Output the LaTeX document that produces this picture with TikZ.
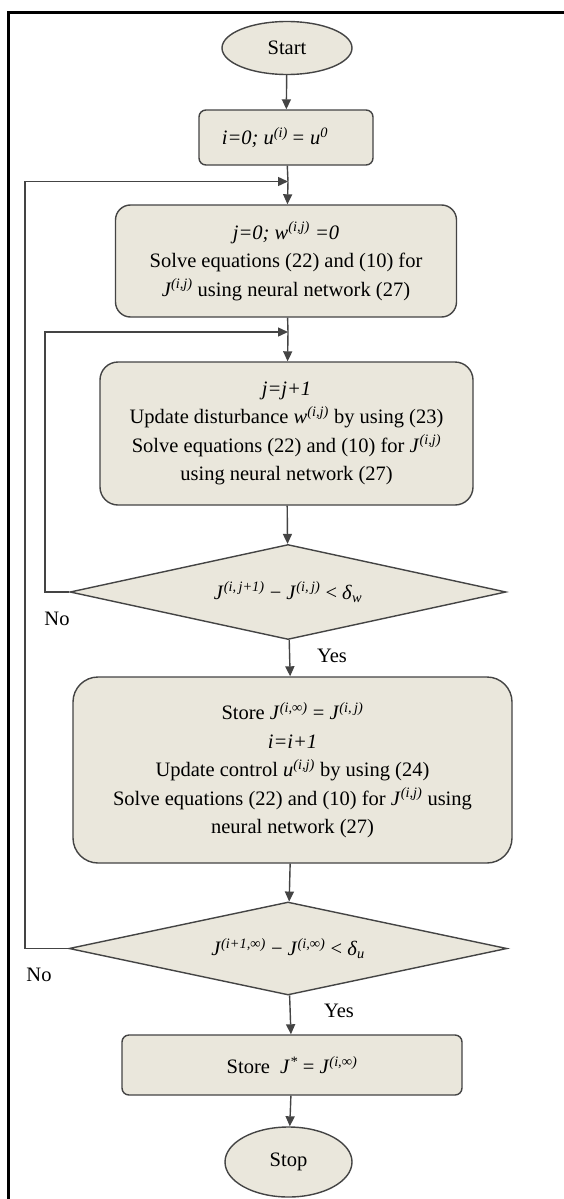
\documentclass[tikz,border=0pt]{standalone}
\usepackage{fontspec}
\setmainfont{Liberation Serif}
\usetikzlibrary{arrows.meta,shapes.geometric}
\definecolor{boxfill}{HTML}{EAE7DC}
\definecolor{edge}{HTML}{444444}
\newcommand\sps[1]{\textsuperscript{\itshape #1}}
\newcommand\sbs[1]{\textsubscript{\itshape #1}}
\tikzset{
  every node/.style={font=\fontsize{20.5}{28.5}\selectfont},
  procbox/.style={draw=edge, line width=1.4pt, fill=boxfill, rounded corners=#1, align=center, inner sep=0pt},
  procbox/.default=12pt,
  term/.style={draw=edge, line width=1.4pt, fill=boxfill, ellipse, inner sep=0pt},
  decide/.style={draw=edge, line width=1.4pt, fill=boxfill, diamond, aspect=4.6, inner sep=0pt},
  flow/.style={draw=edge, line width=1.4pt, -{Triangle[length=10pt,width=9pt]}},
  plain/.style={draw=edge, line width=1.4pt},
  lbl/.style={font=\fontsize{20.5}{22}\selectfont}
}
\begin{document}
\begin{tikzpicture}[x=1pt,y=-1pt]
\useasboundingbox (0,0) rectangle (564,1199);
\fill[white] (0,0) rectangle (564,1199);
% outer frame
\draw[black, line width=2.2pt] (8.5,1199) -- (8.5,12.5) -- (564,12.5);

% nodes
\node[term, minimum width=130pt, minimum height=53pt] (start) at (287,48) {Start};
\node[procbox=7pt, minimum width=174pt, minimum height=55pt] (init) at (286,137.5)
  {\hspace*{-22pt}\itshape i=0; u\sps{(i)}\,= u\sps{0}};
\node[procbox=15pt, minimum width=341pt, minimum height=112pt] (inner0) at (286,261)
  {\itshape j=0; w\sps{(i,j)} =0\\
   Solve equations (22) and (10) for\\
   \itshape J\sps{(i,j)} \upshape using neural network (27)};
\node[procbox=18pt, minimum width=373pt, minimum height=143pt] (inner) at (286.5,433.5)
  {\itshape j=j+1\\
   Update disturbance \textit{w}\sps{(i,j)} by using (23)\\
   Solve equations (22) and (10) for \textit{J}\sps{(i,j)}\\
   using neural network (27)};
\node[decide, minimum width=436pt, minimum height=95pt] (dw) at (288,592)
  {\textit{J}\sps{(i,\,j+1)} − \textit{J}\sps{(i,\,j)} < \textit{δ}\sbs{w}};
\node[procbox=25pt, minimum width=439pt, minimum height=186pt] (outer) at (292.5,770)
  {Store \textit{J}\sps{(i,∞)} = \textit{J}\sps{(i,\,j)}\\
   \itshape i=i+1\\
   Update control \textit{u}\sps{(i,j)} by using (24)\\
   Solve equations (22) and (10) for \textit{J}\sps{(i,j)} using\\
   neural network (27)};
\node[decide, minimum width=438pt, minimum height=93pt] (du) at (288,948.5)
  {\textit{J}\sps{(i+1,∞)} − \textit{J}\sps{(i,∞)} < \textit{δ}\sbs{u}};
\node[procbox=7pt, minimum width=340pt, minimum height=60pt] (final) at (292,1065)
  {Store \ \textit{J}\sps{*} = \textit{J}\sps{(i,∞)}};
\node[term, minimum width=127pt, minimum height=70pt] (stop) at (288.5,1162) {Stop};

% loop junctions
\coordinate (jo) at (288,181.5);
\coordinate (ji) at (288,332);

% main flow
\draw[flow] (start) -- (init);
\draw[plain] (init) -- (jo);
\draw[flow] (jo) -- (inner0);
\draw[plain] (inner0) -- (ji);
\draw[flow] (ji) -- (inner);
\draw[flow] (inner) -- (dw);
\draw[flow] (dw) -- (outer);
\draw[flow] (du) -- (final);
\draw[flow] (outer) -- (du);
\draw[flow] (final) -- (stop);

% feedback loops
\draw[flow] (dw.west) -- (45,592) -- (45,332) -- (ji);
\draw[flow] (du.west) -- (25,948.5) -- (25,181.5) -- (jo);

% branch labels
\node[lbl] (yes1) at (332,656) {Yes};
\node[lbl] (yes2) at (339,1011) {Yes};
\node[lbl] (no1) at (57,619) {No};
\node[lbl] (no2) at (39,975) {No};
\end{tikzpicture}
\end{document}
